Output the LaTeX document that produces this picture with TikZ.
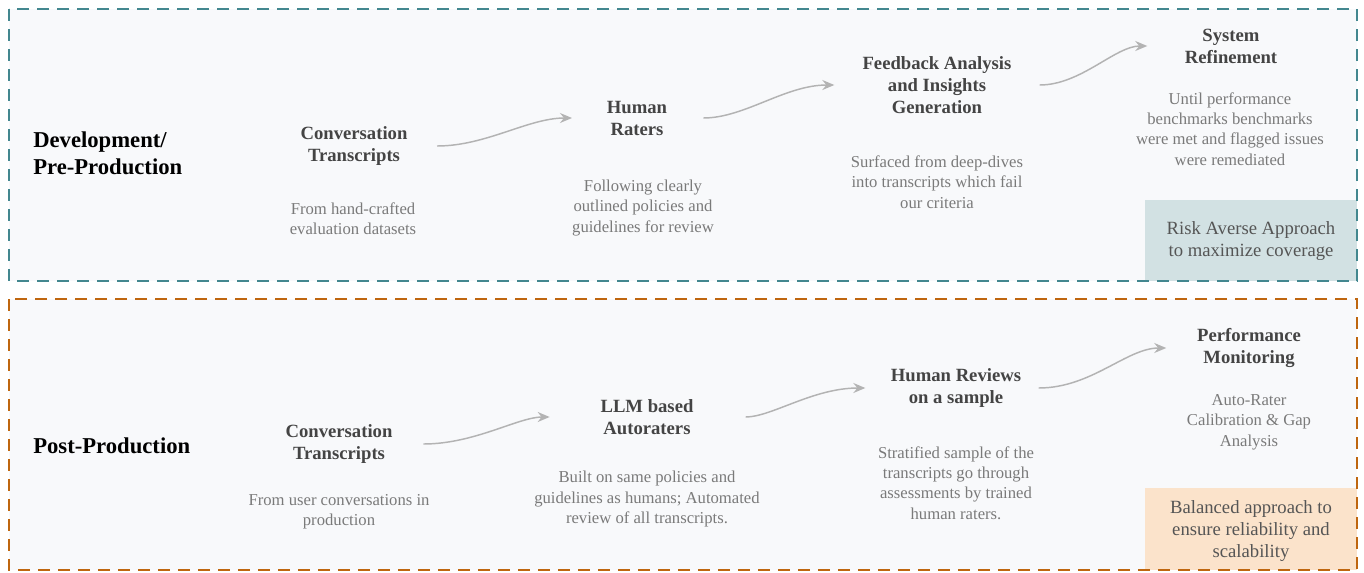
\documentclass[tikz,border=0pt]{standalone}
\usepackage{fontspec}
\setmainfont{Liberation Serif}
\usetikzlibrary{arrows.meta}
\definecolor{devline}{HTML}{43878F}
\definecolor{postline}{HTML}{BF660F}
\definecolor{panelfill}{HTML}{F8F9FB}
\definecolor{riskfill}{HTML}{D2E1E3}
\definecolor{balfill}{HTML}{FBE3CB}
\definecolor{titlegray}{HTML}{444444}
\definecolor{descgray}{HTML}{7A7A7A}
\definecolor{notegray}{HTML}{555555}
\definecolor{arrowgray}{HTML}{B3B3B3}
\begin{document}
\begin{tikzpicture}[x=0.75pt,y=-0.75pt,
	panel/.style={fill=panelfill,line width=2.1pt,dash pattern=on 9pt off 6pt},
	phase/.style={anchor=west,align=left,inner sep=0pt,font=\bfseries\fontsize{17}{20}\selectfont},
	title/.style={align=center,inner sep=0pt,text=titlegray,font=\bfseries\fontsize{14}{16.5}\selectfont},
	desc/.style={align=center,inner sep=0pt,text=descgray,font=\fontsize{12.5}{15.3}\selectfont},
	note/.style={align=center,text=notegray,font=\fontsize{14}{16.5}\selectfont},
	flow/.style={draw=arrowgray,line width=1.1pt,-{Stealth[length=9pt,width=7.5pt,inset=3pt]},out=0,in=180}]
	\useasboundingbox (0,0) rectangle (1364,572);
	% panels
	\fill[panelfill] (9,9) rectangle (1357,281);
	\fill[panelfill] (9,299) rectangle (1357,570);
	\fill[riskfill] (1145,200) rectangle (1357,281);
	\fill[balfill] (1145,488) rectangle (1357,570);
	\draw[panel,draw=devline,fill=none] (9,9) rectangle (1357,281);
	\draw[panel,draw=postline,fill=none] (9,299) rectangle (1357,570);
	\node[note] (risk) at (1251,241) {Risk Averse Approach\\to maximize coverage};
	\node[note] (bal) at (1251,531) {Balanced approach to\\ensure reliability and\\scalability};
	% development row
	\node[phase] (dev) at (33,153) {Development/\\Pre-Production};
	\node[title] (ct1) at (354,146) {Conversation\\Transcripts};
	\node[desc] (ct1d) at (353,219) {From hand-crafted\\evaluation datasets};
	\node[title] (hr) at (637,118) {Human\\Raters};
	\node[desc] (hrd) at (643,208) {Following clearly\\outlined policies and\\guidelines for review};
	\node[title] (fa) at (937,85) {Feedback Analysis\\and Insights\\Generation};
	\node[desc] (fad) at (937,182) {Surfaced from deep-dives\\into transcripts which fail\\our criteria};
	\node[title] (sr) at (1231,46) {System\\Refinement};
	\node[desc] (srd) at (1230,129) {Until performance\\benchmarks benchmarks\\were met and flagged issues\\were remediated};
	\draw[flow,shorten <=22pt,shorten >=26pt] (ct1.east) to (hr.west);
	\draw[flow,shorten <=27pt,shorten >=21pt] (hr.east) to (fa.west);
	\draw[flow,shorten <=21pt,shorten >=28pt] (fa.east) to (sr.west);
	% post-production row
	\node[phase] (post) at (33,446) {Post-Production};
	\node[title] (ct2) at (339,444) {Conversation\\Transcripts};
	\node[desc] (ct2d) at (339,512) {From user conversations in\\production};
	\node[title] (llm) at (647,417) {LLM based\\Autoraters};
	\node[desc] (llmd) at (647,499) {Built on same policies and\\guidelines as humans; Automated\\review of all transcripts.};
	\node[title] (hrs) at (956,388) {Human Reviews\\on a sample};
	\node[desc] (hrsd) at (956,483) {Stratified sample of the\\transcripts go through\\assessments by trained\\human raters.};
	\node[title] (pm) at (1249,348) {Performance\\Monitoring};
	\node[desc] (pmd) at (1249,422) {Auto-Rater\\Calibration \& Gap\\Analysis};
	\draw[flow,shorten <=23pt,shorten >=38pt] (ct2.east) to (llm.west);
	\draw[flow,shorten <=39pt,shorten >=19pt] (llm.east) to (hrs.west);
	\draw[flow,shorten <=13pt,shorten >=23pt] (hrs.east) to (pm.west);
\end{tikzpicture}
\end{document}
